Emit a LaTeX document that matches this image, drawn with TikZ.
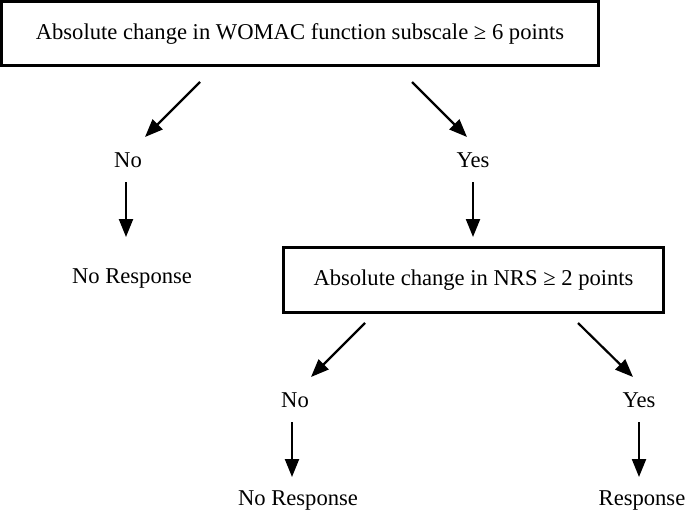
\documentclass[tikz,border=0pt]{standalone}
\usepackage{fontspec}
\setmainfont{Liberation Serif}
\usetikzlibrary{arrows.meta}
\begin{document}
\begin{tikzpicture}[x=1pt,y=-1pt,
  box/.style={draw=black,line width=2.2pt,inner sep=0pt,font=\fontsize{22.6}{26}\selectfont},
  lbl/.style={inner sep=0pt,font=\fontsize{22.6}{26}\selectfont},
  arr/.style={line width=2.2pt,-{Triangle[length=18pt,width=14pt]}}]
\useasboundingbox (0,0) rectangle (685,514);
\node[box,minimum width=597pt,minimum height=64pt] (top) at (300,33.5) {Absolute change in WOMAC function subscale ≥ 6 points};
\node[lbl] (no1) at (128,160) {No};
\node[lbl] (yes1) at (473,160) {Yes};
\node[lbl] (nr1) at (132,279) {No Response};
\node[box,minimum width=380pt,minimum height=65pt] (nrs) at (473.5,280) {Absolute change in NRS ≥ 2 points};
\node[lbl] (no2) at (295,400) {No};
\node[lbl] (yes2) at (639,400) {Yes};
\node[lbl] (nr2) at (298,500) {No Response};
\node[lbl] (r2) at (642,500) {Response};
\coordinate (a1s) at (200,82); \coordinate (a1e) at (145,137);
\coordinate (a2s) at (412,82); \coordinate (a2e) at (467,137);
\coordinate (a3s) at (126,182); \coordinate (a3e) at (126,237);
\coordinate (a4s) at (473,182); \coordinate (a4e) at (473,237);
\coordinate (a5s) at (365,323); \coordinate (a5e) at (311,377);
\coordinate (a6s) at (578,323); \coordinate (a6e) at (633,377);
\coordinate (a7s) at (292,422); \coordinate (a7e) at (292,477);
\coordinate (a8s) at (639,422); \coordinate (a8e) at (639,477);
\foreach \i in {1,...,8} \draw[arr] (a\i s) -- (a\i e);
\end{tikzpicture}
\end{document}
